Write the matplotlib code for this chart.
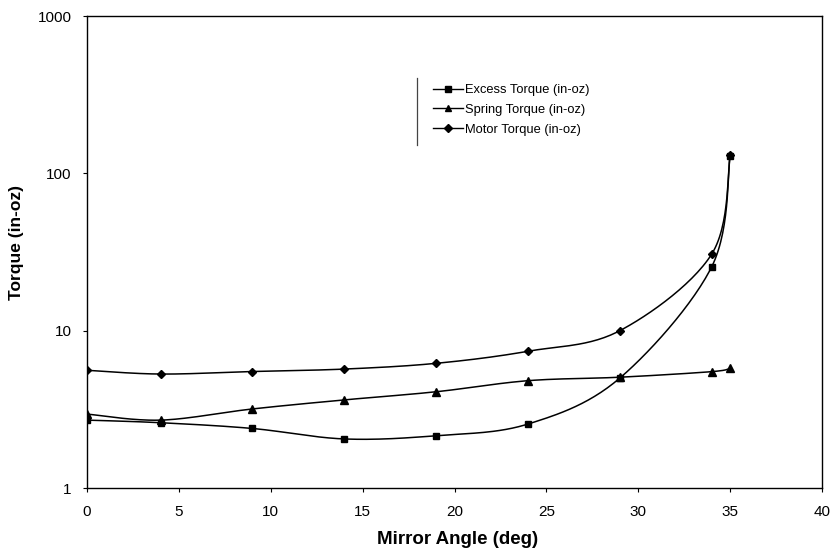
import numpy as np
import matplotlib
matplotlib.use("Agg")
import matplotlib.pyplot as plt
from matplotlib.lines import Line2D
from matplotlib.ticker import FixedLocator, NullLocator, FixedFormatter

plt.rcParams['font.family'] = ['Liberation Sans', 'DejaVu Sans']

angle = [0, 4, 9, 14, 19, 24, 29, 34, 35]
excess = [2.7, 2.6, 2.39, 2.05, 2.15, 2.55, 5.0, 25.5, 128]
spring = [2.95, 2.7, 3.18, 3.63, 4.09, 4.81, 5.06, 5.49, 5.77]
motor = [5.6, 5.3, 5.5, 5.7, 6.2, 7.4, 10.0, 30.7, 131]

series_names = ["Excess Torque (in-oz)", "Spring Torque (in-oz)", "Motor Torque (in-oz)"]
x_ticks = [0, 5, 10, 15, 20, 25, 30, 35, 40]
y_ticks = [1, 10, 100, 1000]
y_tick_labels = ["1", "10", "100", "1000"]

W, H = 835, 556


def smooth(xs, ys, n=30):
    """Excel-style smoothed line (Catmull-Rom Bezier) in x / log10(y) space."""
    P = np.column_stack([np.asarray(xs, float), np.log10(np.asarray(ys, float))])
    out = []
    m = len(P)
    for i in range(m - 1):
        p0 = P[i - 1] if i > 0 else P[i]
        p1 = P[i]
        p2 = P[i + 1]
        p3 = P[i + 2] if i + 2 < m else P[i + 1]
        c1 = p1 + (p2 - p0) / 6.0
        c2 = p2 - (p3 - p1) / 6.0
        t = np.linspace(0, 1, n)[:, None]
        seg = ((1 - t) ** 3) * p1 + 3 * ((1 - t) ** 2) * t * c1 + 3 * (1 - t) * t ** 2 * c2 + t ** 3 * p2
        out.append(seg if i == 0 else seg[1:])
    S = np.vstack(out)
    return S[:, 0], 10 ** S[:, 1]


fig = plt.figure(figsize=(W / 100, H / 100), dpi=100)
ax = fig.add_axes([87 / W, 1 - 488 / H, (822 - 87) / W, (488 - 16) / H])

markers = ['s', '^', 'D']
msizes = [4.6, 5.2, 4.0]
for ys, name, mk, ms in zip([excess, spring, motor], series_names, markers, msizes):
    sx, sy = smooth(angle, ys)
    ax.plot(sx, sy, color='black', lw=1.1)
    ax.plot(angle, ys, linestyle='none', marker=mk, ms=ms, color='black')
    ax.plot([], [], color='black', lw=1.0, marker=mk, ms=ms * 0.9, label=name)

ax.set_yscale('log')
ax.set_xlim(0, 40)
ax.set_ylim(1, 1000)
ax.xaxis.set_major_locator(FixedLocator(x_ticks))
ax.yaxis.set_major_locator(FixedLocator(y_ticks))
ax.yaxis.set_major_formatter(FixedFormatter(y_tick_labels))
ax.yaxis.set_minor_locator(NullLocator())
ax.tick_params(axis='both', which='major', direction='out', length=3, width=0.8,
               labelsize=11, colors='black')
ax.tick_params(axis='x', pad=9.5)
ax.tick_params(axis='y', pad=8)
for s in ax.spines.values():
    s.set_linewidth(1.0)
    s.set_color('black')

ax.set_xlabel("Mirror Angle (deg)", fontsize=13.5, fontweight='bold', va='center')
ax.xaxis.set_label_coords((458 - 87) / 735, (488 - 540) / 472)
ax.set_ylabel("Torque (in-oz)", fontsize=12.5, fontweight='bold', va='center')
ax.yaxis.set_label_coords((17 - 87) / 735, (488 - 243) / 472)

ax.legend(loc='upper left', bbox_to_anchor=(433 / W, 1 - 84 / H), bbox_transform=fig.transFigure,
          frameon=False, fontsize=9.3, handlelength=2.3, handletextpad=0.15,
          labelspacing=0.6, borderpad=0, borderaxespad=0)
fig.add_artist(Line2D([417 / W, 417 / W], [1 - 78 / H, 1 - 145 / H], color='#444444', lw=0.9,
                      transform=fig.transFigure))

fig.savefig("out.png", dpi=100, facecolor='white')
